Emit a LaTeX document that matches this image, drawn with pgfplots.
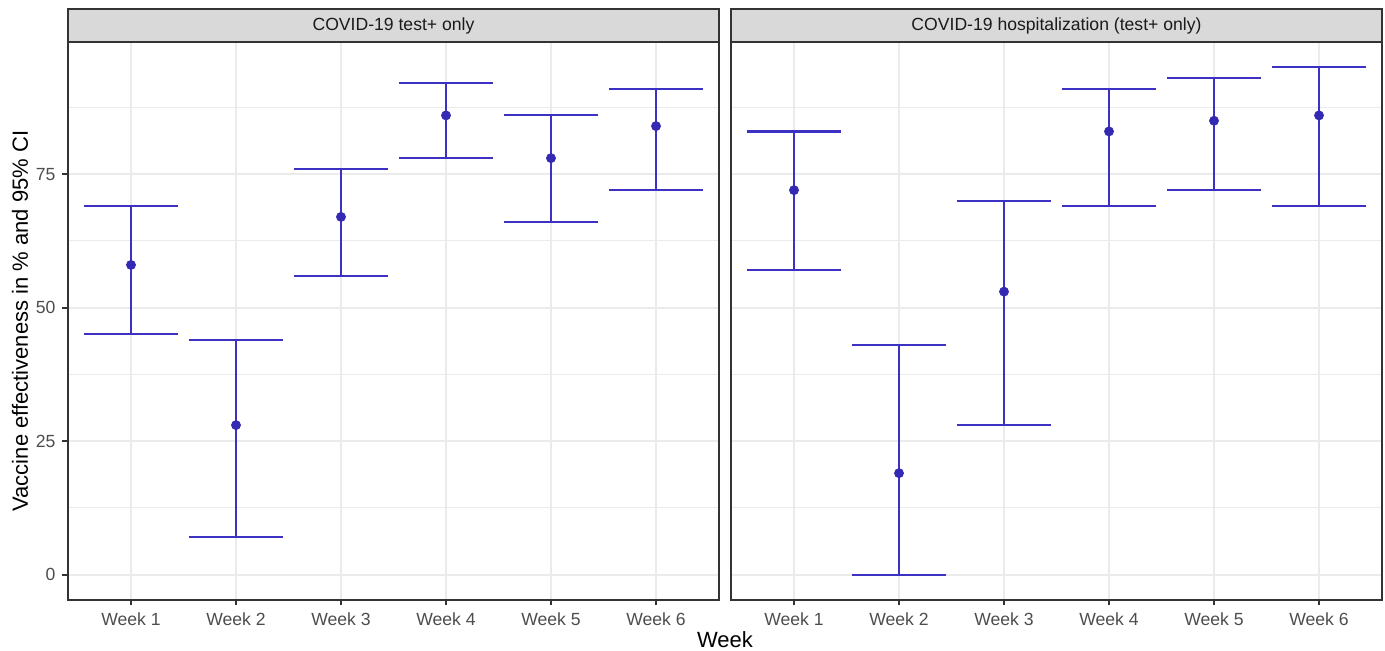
\documentclass[border=0pt]{standalone}
\usepackage{fontspec}
\setmainfont{Liberation Sans}
\usepackage{pgfplots}
\pgfplotsset{compat=1.18}

\definecolor{gridc}{HTML}{EBEBEB}
\definecolor{frame}{HTML}{333333}
\definecolor{ticktxt}{HTML}{4D4D4D}
\definecolor{stripfill}{HTML}{D9D9D9}
\definecolor{striptxt}{HTML}{1A1A1A}
\definecolor{lnblue}{HTML}{3D31C4}
\definecolor{ptblue}{HTML}{3429B3}

\pgfplotsset{
  facet/.style={
    anchor=south west,
    width=325.5pt, height=279pt, scale only axis,
    xmin=0.4, xmax=6.6, ymin=-4.75, ymax=99.75,
    xtick={1,2,3,4,5,6},
    xticklabels={Week 1,Week 2,Week 3,Week 4,Week 5,Week 6},
    ytick={0,25,50,75},
    minor ytick={12.5,37.5,62.5,87.5},
    grid=both,
    major grid style={draw=gridc, line width=1.07pt},
    minor grid style={draw=gridc, line width=0.53pt},
    axis line style={draw=frame, line width=1.07pt},
    tick align=outside, xtick pos=bottom, ytick pos=left,
    major tick length=2.75pt, minor tick length=0pt,
    tick style={draw=frame, line width=1.07pt},
    ticklabel style={text=ticktxt, font=\fontsize{8.8}{10}\selectfont},
    /pgf/number format/assume math mode=true,
    clip=false,
  },
  ebars/.style={
    draw=none, mark=none, forget plot,
    error bars/.cd, y dir=both, y explicit,
    error bar style={draw=lnblue, line width=1.07pt},
    error mark=|,
    error mark options={draw=lnblue, line width=1.07pt, mark size=23.6pt},
  },
  pts/.style={only marks, mark=*, mark size=2.25pt, color=ptblue},
}

\newcommand{\strip}[1]{%
  \draw[fill=stripfill, draw=frame, line width=1.07pt]
    (rel axis cs:0,1) rectangle ([yshift=16.5pt]rel axis cs:1,1);
  \node[text=striptxt, font=\fontsize{8.8}{10}\selectfont]
    at ([yshift=8.25pt]rel axis cs:0.5,1) {#1};}

\begin{document}
\begin{tikzpicture}
\useasboundingbox (-34pt,-25.5pt) rectangle (658.5pt,300pt);

\begin{axis}[facet, at={(0pt,0pt)}]
\addplot[ebars] coordinates {
  (1,58) += (0,11) -= (0,13)
  (2,28) += (0,16) -= (0,21)
  (3,67) += (0,9)  -= (0,11)
  (4,86) += (0,6)  -= (0,8)
  (5,78) += (0,8)  -= (0,12)
  (6,84) += (0,7)  -= (0,12)
};
\addplot[pts] coordinates {(1,58) (2,28) (3,67) (4,86) (5,78) (6,84)};
\strip{COVID-19 test+ only}
\end{axis}

\begin{axis}[facet, at={(331.5pt,0pt)}, yticklabels={}, ytick style={draw=none}]
\addplot[ebars] coordinates {
  (1,72) += (0,11) -= (0,15)
  (2,19) += (0,24) -= (0,19)
  (3,53) += (0,17) -= (0,25)
  (4,83) += (0,8)  -= (0,14)
  (5,85) += (0,8)  -= (0,13)
  (6,86) += (0,9)  -= (0,17)
};
\addplot[pts] coordinates {(1,72) (2,19) (3,53) (4,83) (5,85) (6,86)};
\strip{COVID-19 hospitalization (test+ only)}
\end{axis}

\node[rotate=90, font=\fontsize{11}{13}\selectfont] at (-24pt,139.5pt)
  {Vaccine effectiveness in \% and 95\% CI};
\node[font=\fontsize{11}{13}\selectfont] at (328.5pt,-20pt) {Week};
\end{tikzpicture}
\end{document}
